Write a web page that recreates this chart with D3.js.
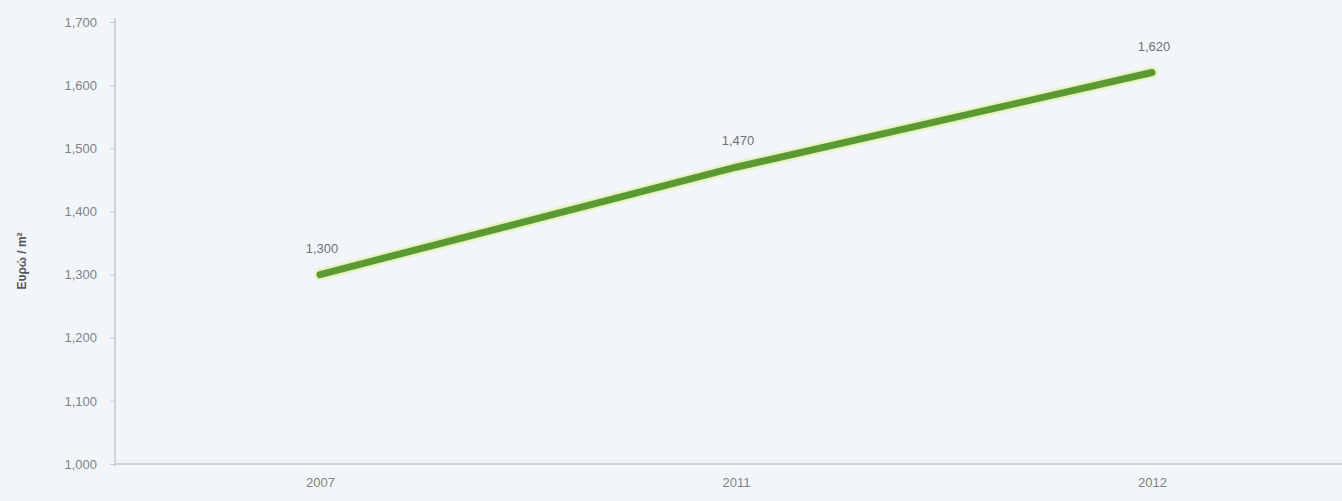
<!DOCTYPE html>
<html>
<head>
<meta charset="utf-8">
<script src="https://cdn.jsdelivr.net/npm/d3@7"></script>
<style>
  html, body { margin: 0; padding: 0; background: #f3f6f9; }
  svg { display: block; }
  text { font-family: "Liberation Sans Narrow", "Arial Narrow", "Liberation Sans", sans-serif; }
</style>
</head>
<body>
<svg id="chart" width="1342" height="501"></svg>
<script>
const years = ["2007", "2011", "2012"];
const prices = [1300, 1470, 1620];
const yTicks = [1000, 1100, 1200, 1300, 1400, 1500, 1600, 1700];
const yTitle = "Ευρώ / m²";

(function () {
const W = 1342, H = 501;
const mLeft = 115, mBottom = 464, mTop = 22;
const svg = d3.select("#chart");

svg.append("rect").attr("width", W).attr("height", H).attr("fill", "#f3f6f9");

const x = d3.scalePoint().domain(years).range([112, 1360]).padding(0.5);
const y = d3.scaleLinear().domain([1000, 1700]).range([mBottom, mTop]);

// Y axis
const yAxis = d3.axisLeft(y).tickValues(yTicks).tickFormat(d3.format(",")).tickSize(5).tickPadding(13);
const gy = svg.append("g").attr("transform", `translate(${mLeft},0)`).call(yAxis);
gy.select(".domain").attr("stroke", "#cfd3d7").attr("stroke-width", 2).attr("d", `M0,${mTop - 4}V${mBottom + 2}`);
gy.selectAll(".tick line").attr("stroke", "#c4c8cc");
gy.selectAll(".tick text").attr("fill", "#808285").attr("font-size", 13);

// X axis
const xAxis = d3.axisBottom(x).tickSize(0).tickPadding(14);
const gx = svg.append("g").attr("transform", `translate(0,${mBottom})`).call(xAxis);
gx.select(".domain").remove();
gx.append("line").attr("x1", mLeft).attr("x2", W).attr("y1", 0).attr("y2", 0)
  .attr("stroke", "#d0d4d8").attr("stroke-width", 2);
gx.append("line").attr("x1", mLeft).attr("x2", W).attr("y1", -3).attr("y2", -3)
  .attr("stroke", "#e4e7ea").attr("stroke-width", 1);
gx.selectAll(".tick text").attr("fill", "#808285").attr("font-size", 13);

// Y title
svg.append("text")
  .attr("transform", `translate(26,261) rotate(-90)`)
  .attr("text-anchor", "middle")
  .attr("fill", "#55585c")
  .attr("font-size", 12)
  .attr("font-weight", "bold")
  .text(yTitle);

const data = years.map((yr, i) => ({ yr, v: prices[i] }));
const line = d3.line().x(d => x(d.yr)).y(d => y(d.v));

// glow
svg.append("path").datum(data).attr("d", line)
  .attr("fill", "none").attr("stroke", "#e4f3b8").attr("stroke-width", 12)
  .attr("stroke-linecap", "round").attr("opacity", 0.8);
svg.append("path").datum(data).attr("d", line)
  .attr("fill", "none").attr("stroke", "#5b9a33").attr("stroke-width", 7)
  .attr("stroke-linecap", "round");

// Labels
svg.append("g").selectAll("text").data(data).join("text")
  .attr("x", d => x(d.yr) + 2)
  .attr("y", d => y(d.v) - 22)
  .attr("text-anchor", "middle")
  .attr("fill", "#6f7276")
  .attr("font-size", 13)
  .text(d => d3.format(",")(d.v));
})();
</script>
</body>
</html>
